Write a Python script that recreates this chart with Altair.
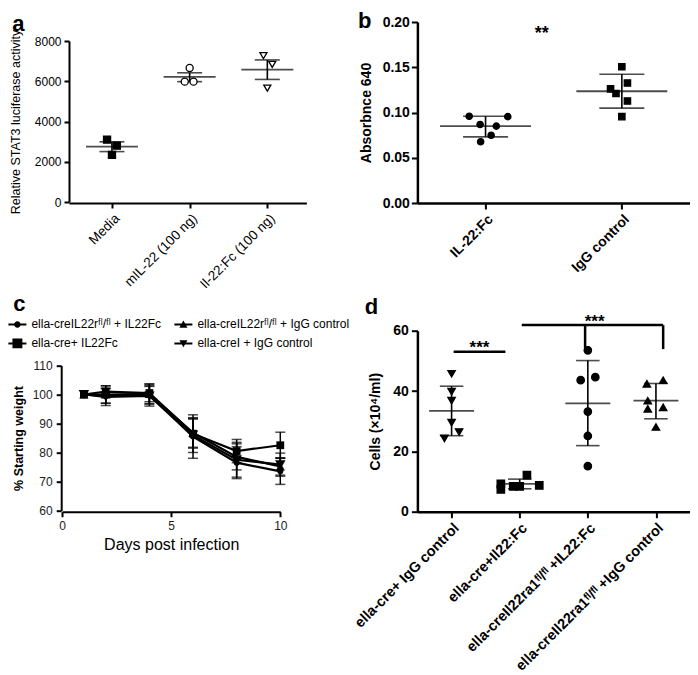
import json
import altair as alt
import pandas as pd

FONT = "Liberation Sans"

# ---------------- panel a ----------------
a_groups = ["Media", "mIL-22 (100 ng)", "Il-22:Fc (100 ng)"]
a_pt_group = [0, 0, 0, 1, 1, 1, 2, 2, 2]
a_pt_jitter = [-0.063, 0.063, 0.0, 0.0, -0.063, 0.05, -0.05, 0.063, 0.0]
a_pt_value = [3100, 2800, 2340, 6660, 5980, 5980, 7270, 6840, 5660]
a_mean = [2750, 6220, 6580]
a_lo = [2505, 5980, 6090]
a_hi = [2990, 6420, 7060]
a_yticks = [0, 2000, 4000, 6000, 8000]

# ---------------- panel b ----------------
b_groups = ["IL-22:Fc", "IgG control"]
b_pt_group = [0] * 6 + [1] * 6
b_pt_jitter = [-0.12, 0.163, -0.04, 0.079, 0.041, -0.036,
               0.0, 0.041, -0.083, -0.043, 0.041, 0.0]
b_pt_value = [0.0958, 0.0954, 0.0868, 0.0850, 0.0749, 0.0677,
              0.1505, 0.1326, 0.1261, 0.1210, 0.1127, 0.0954]
b_mean = [0.0850, 0.1235]
b_lo = [0.0731, 0.1048]
b_hi = [0.0958, 0.1423]
b_yticks = [0, 0.05, 0.10, 0.15, 0.20]
b_star_text = ["**"]
b_star_x = [0.413]
b_star_y = [0.192]

# ---------------- panel c ----------------
c_days = [1, 2, 4, 6, 8, 10]
c_series = ["ella-creIL22rᶠˡ/ᶠˡ + IL22Fc", "ella-cre+ IL22Fc",
            "ella-creIL22rᶠˡ/ᶠˡ + IgG control", "ella-creI + IgG control"]
c_mean_1 = [100, 99.5, 99.8, 85.5, 76.5, 73.5]
c_mean_2 = [100, 101.0, 100.5, 86.5, 80.5, 82.5]
c_mean_3 = [100, 100.0, 100.2, 86.8, 78.5, 75.2]
c_mean_4 = [100, 99.2, 99.5, 86.0, 77.5, 75.8]
c_err_1 = [0, 2.5, 3.0, 7.5, 5.5, 4.5]
c_err_2 = [0, 2.0, 3.0, 5.0, 4.0, 4.5]
c_err_3 = [0, 3.0, 3.5, 5.0, 4.5, 3.0]
c_err_4 = [0, 3.0, 3.5, 6.0, 6.0, 4.0]
c_yticks = [60, 70, 80, 90, 100, 110]
c_xticks = [0, 5, 10]

# ---------------- panel d ----------------
d_groups = ["ella-cre+ IgG control", "ella-cre+Il22:Fc",
            "ella-creIl22ra1ᶠˡ/ᶠˡ +IL22:Fc", "ella-creIl22ra1ᶠˡ/ᶠˡ  +IgG control"]
d_pt_group = [0] * 6 + [1] * 6 + [2] * 6 + [3] * 6
d_pt_jitter = [0, 0, 0, 0, 0.11, -0.105,
               -0.277, -0.277, -0.095, 0, 0.106, 0.287,
               0, -0.105, 0.11, 0, 0, 0,
               -0.133, 0.106, -0.12, -0.12, 0.106, 0]
d_pt_value = [45.7, 39.8, 36.8, 29.5, 26.4, 24.3,
              9.2, 7.4, 8.4, 8.4, 12.1, 8.7,
              53.5, 43.6, 44.6, 33.2, 25.1, 15.1,
              42.4, 43.6, 36.8, 34.1, 34.6, 28.1]
d_mean = [33.4, 9.2, 35.9, 36.8]
d_lo = [25.2, 7.6, 21.9, 30.8]
d_hi = [41.6, 10.8, 50.1, 42.5]
d_yticks = [0, 20, 40, 60]
d_hline_x = [0.03, 1.03]
d_hline_x2 = [0.79, 3.106]
d_hline_y = [53.0, 61.85]
d_drop_x = [1.96, 3.106]
d_drop_y = [61.85, 61.85]
d_drop_y2 = [54.3, 53.9]
d_star_text = ["***", "***"]
d_star_x = [0.41, 2.10]
d_star_y = [55.7, 64.35]


def axis(**kw):
    base = dict(grid=False, domainColor="black", tickColor="black", labelColor="black",
                titleColor="black", labelFont=FONT, titleFont=FONT, domainWidth=2,
                tickWidth=2, tickSize=5, labelFlush=False, labelOverlap=False)
    base.update(kw)
    return alt.Axis(**base)


def panel_title(letter, dx, dy):
    return alt.TitleParams(text=letter, anchor="start", frame="group", fontSize=22,
                           fontWeight="bold", font=FONT, color="black", dx=dx, dy=dy,
                           offset=0, baseline="alphabetic")


def scatter_panel(key, groups, pg, pj, pv, mean, lo, hi, shapes, fills, size, xdom, ydom,
                  yrange, width, height, mean_w, cap_w, xaxis, yaxis, ytitle,
                  title, extra=None):
    gfield = "grp_" + key
    pts = pd.DataFrame({"gi": pg, "j": pj, "v": pv, gfield: [groups[i] for i in pg]})
    summ = pd.DataFrame({"gi": list(range(len(groups))), "m": mean, "lo": lo, "hi": hi})
    xs = alt.Scale(domain=xdom, nice=False, zero=False)
    ys_kw = dict(domain=ydom, nice=False, zero=False)
    if yrange is not None:
        ys_kw["range"] = yrange
    ys = alt.Scale(**ys_kw)

    def X(f):
        return alt.X(f, type="quantitative", scale=xs, axis=xaxis, title=None)

    def Y(f):
        return alt.Y(f, type="quantitative", scale=ys, axis=yaxis, title=ytitle)

    base = alt.Chart(summ)
    err = base.mark_rule(color="black", strokeWidth=1.6).encode(x=X("gi"), y=Y("lo"), y2=alt.Y2("hi"))
    cap_lo = base.mark_tick(orient="horizontal", size=cap_w, thickness=1.6, color="black").encode(x=X("gi"), y=Y("lo"))
    cap_hi = base.mark_tick(orient="horizontal", size=cap_w, thickness=1.6, color="black").encode(x=X("gi"), y=Y("hi"))
    mean_t = base.mark_tick(orient="horizontal", size=mean_w, thickness=1.8, color="black").encode(x=X("gi"), y=Y("m"))
    points = alt.Chart(pts).transform_calculate(px="datum.gi + datum.j").mark_point(
        filled=True, size=size, stroke="black", strokeWidth=1.3, opacity=1
    ).encode(
        x=X("px"), y=Y("v"),
        shape=alt.Shape(gfield + ":N", scale=alt.Scale(domain=groups, range=shapes), legend=None),
        fill=alt.Fill(gfield + ":N", scale=alt.Scale(domain=groups, range=fills), legend=None),
    )
    layers = [err, cap_lo, cap_hi, mean_t, points]
    if extra is not None:
        layers += extra(X, Y)
    return alt.layer(*layers).properties(width=width, height=height, title=title)


def labels_expr(groups):
    return json.dumps(groups, ensure_ascii=False) + "[datum.value]"


# ---------- panel a chart ----------
a_chart = scatter_panel(
    "a", a_groups, a_pt_group, a_pt_jitter, a_pt_value, a_mean, a_lo, a_hi,
    shapes=["square", "circle", "triangle-down"], fills=["black", "white", "white"], size=50,
    xdom=[-0.553, 2.503], ydom=[0, 8000], yrange=[180, 19], width=237.4, height=181,
    mean_w=52, cap_w=25,
    xaxis=axis(values=[0, 1, 2], labelExpr=labels_expr(a_groups), labelAngle=-45,
               labelAlign="right", labelBaseline="top", labelFontSize=13.5, labelPadding=3),
    yaxis=axis(values=a_yticks, format="d", labelFontSize=12, titleFontSize=12.5,
               titleFontWeight="normal", labelPadding=3, titlePadding=12),
    ytitle="Relative STAT3 luciferase activity",
    title=panel_title("a", -56.7, 31),
)


# ---------- panel b chart ----------
def b_extra(X, Y):
    df = pd.DataFrame({"x": b_star_x, "y": b_star_y, "t": b_star_text})
    return [alt.Chart(df).mark_text(font=FONT, fontSize=18, fontWeight="bold", color="black",
                                    baseline="alphabetic", dy=10).encode(x=X("x"), y=Y("y"), text="t:N")]


b_chart = scatter_panel(
    "b", b_groups, b_pt_group, b_pt_jitter, b_pt_value, b_mean, b_lo, b_hi,
    shapes=["circle", "square"], fills=["black", "black"], size=40,
    xdom=[-0.5, 1.5], ydom=[0, 0.2], yrange=None, width=272.6, height=181,
    mean_w=91, cap_w=45,
    xaxis=axis(values=[0, 1], labelExpr=labels_expr(b_groups), labelAngle=-45,
               labelAlign="right", labelBaseline="top", labelFontSize=14, labelFontWeight="bold",
               labelPadding=3, domainWidth=2.5, tickSize=6),
    yaxis=axis(values=b_yticks, format=".2f", labelFontSize=14, labelFontWeight="bold",
               titleFontSize=14, titleFontWeight="bold", labelPadding=2, titlePadding=9,
               domainWidth=2.5, tickSize=6),
    ytitle="Absorbnce 640",
    title=panel_title("b", -59.5, 35),
    extra=b_extra,
)

# ---------- panel c chart ----------
rows = []
for s, m, e in zip(c_series, [c_mean_1, c_mean_2, c_mean_3, c_mean_4],
                   [c_err_1, c_err_2, c_err_3, c_err_4]):
    for d, mv, ev in zip(c_days, m, e):
        rows.append({"series": s, "day": d, "m": mv, "e": ev, "lo": mv - ev, "hi": mv + ev})
c_df = pd.DataFrame(rows)

c_xs = alt.Scale(domain=[0, 10], range=[-6.9, 211.3], nice=False, zero=False)
c_ys = alt.Scale(domain=[60, 110], range=[179.8, 34.8], nice=False, zero=False)
c_xaxis = axis(values=c_xticks, labelFontSize=12, labelColor="#222", title="Days post infection",
               titleFontSize=16, titleFontWeight="normal", labelPadding=4, titlePadding=5)
c_yaxis = axis(values=c_yticks, labelFontSize=12, labelColor="#222", titleFontSize=12.5,
               titleFontWeight="bold", labelPadding=4, titlePadding=7, offset=7.8)


def CX(f):
    return alt.X(f, type="quantitative", scale=c_xs, axis=c_xaxis, title="Days post infection")


def CY(f):
    return alt.Y(f, type="quantitative", scale=c_ys, axis=c_yaxis, title="% Starting weight")


c_base = alt.Chart(c_df)
c_err = c_base.transform_filter("datum.e > 0")
c_layers = [
    c_err.mark_rule(color="black", strokeWidth=1.5).encode(x=CX("day"), y=CY("lo"), y2=alt.Y2("hi")),
    c_err.mark_tick(orient="horizontal", size=10, thickness=1.5, color="black").encode(x=CX("day"), y=CY("lo")),
    c_err.mark_tick(orient="horizontal", size=10, thickness=1.5, color="black").encode(x=CX("day"), y=CY("hi")),
    c_base.mark_line(color="black", strokeWidth=2.2).encode(x=CX("day"), y=CY("m"), detail="series:N"),
    c_base.mark_point(filled=True, color="black", opacity=1).encode(
        x=CX("day"), y=CY("m"),
        shape=alt.Shape("series:N", scale=alt.Scale(domain=c_series,
                        range=["circle", "square", "triangle-up", "triangle-down"]), legend=None),
        size=alt.Size("series:N", scale=alt.Scale(domain=c_series, range=[36, 110, 45, 45]), legend=None),
    ),
]
line_part = "M-1,-0.11H1V0.11H-1Z "
legend_paths = [
    line_part + "M-0.36,0A0.36,0.36,0,1,1,0.36,0A0.36,0.36,0,1,1,-0.36,0Z",
    line_part + "M-0.55,-0.55H0.55V0.55H-0.55Z",
    line_part + "M0,-0.42L0.45,0.36H-0.45Z",
    line_part + "M0,0.42L-0.45,-0.36H0.45Z",
]
legend_layer = alt.Chart(pd.DataFrame({"series_leg": c_series})).transform_filter("false").mark_point(
    filled=True, color="black", opacity=1
).encode(
    shape=alt.Shape("series_leg:N", scale=alt.Scale(domain=c_series, range=legend_paths),
                    legend=alt.Legend(orient="none", legendX=-60.6, legendY=-15.3, columns=2,
                                      title=None, symbolSize=324, symbolFillColor="black",
                                      symbolStrokeColor="black", symbolStrokeWidth=0,
                                      symbolOpacity=1, labelFont=FONT, labelFontSize=12,
                                      labelColor="black", labelOffset=5, rowPadding=4,
                                      columnPadding=13, labelLimit=220)),
)
c_chart = alt.layer(*c_layers, legend_layer).resolve_scale(
    shape="independent", size="independent").properties(
    width=211.3, height=181, title=panel_title("c", -55.7, 18))


# ---------- panel d chart ----------
def d_extra(X, Y):
    hl = pd.DataFrame({"x": d_hline_x, "x2": d_hline_x2, "y": d_hline_y})
    dr = pd.DataFrame({"x": d_drop_x, "y": d_drop_y, "y2": d_drop_y2})
    st = pd.DataFrame({"x": d_star_x, "y": d_star_y, "t": d_star_text})
    return [
        alt.Chart(hl).mark_rule(color="black", strokeWidth=2.5).encode(x=X("x"), x2=alt.X2("x2"), y=Y("y")),
        alt.Chart(dr).mark_rule(color="black", strokeWidth=2.5).encode(x=X("x"), y=Y("y"), y2=alt.Y2("y2")),
        alt.Chart(st).mark_text(font=FONT, fontSize=17, fontWeight="bold", color="black",
                                baseline="alphabetic", dy=9.5).encode(x=X("x"), y=Y("y"), text="t:N"),
    ]


d_chart = scatter_panel(
    "d", d_groups, d_pt_group, d_pt_jitter, d_pt_value, d_mean, d_lo, d_hi,
    shapes=["triangle-down", "square", "circle", "triangle-up"], fills=["black"] * 4, size=55,
    xdom=[-0.502, 3.5], ydom=[0, 60], yrange=None, width=272.6, height=181,
    mean_w=45, cap_w=23.5,
    xaxis=axis(values=[0, 1, 2, 3], labelExpr=labels_expr(d_groups), labelAngle=-45,
               labelAlign="right", labelBaseline="top", labelFontSize=14.5, labelFontWeight="bold",
               labelPadding=3, domainWidth=2.5, tickSize=6, labelLimit=280),
    yaxis=axis(values=d_yticks, labelFontSize=14, labelFontWeight="bold", titleFontSize=14,
               titleFontWeight="bold", labelPadding=3, titlePadding=10, domainWidth=2.5, tickSize=6),
    ytitle="Cells (×10⁴/ml)",
    title=panel_title("d", -52.7, 23),
    extra=d_extra,
)

chart = alt.concat(
    a_chart, b_chart, c_chart, d_chart, columns=2, bounds="flush",
    spacing={"row": 127.7, "column": 110.4},
    padding={"top": 2, "left": 0, "right": 0, "bottom": 0},
).resolve_scale(shape="independent", fill="independent", size="independent").configure_view(strokeWidth=0)

chart.save("out.html", embed_options={"renderer": "svg", "actions": False})
